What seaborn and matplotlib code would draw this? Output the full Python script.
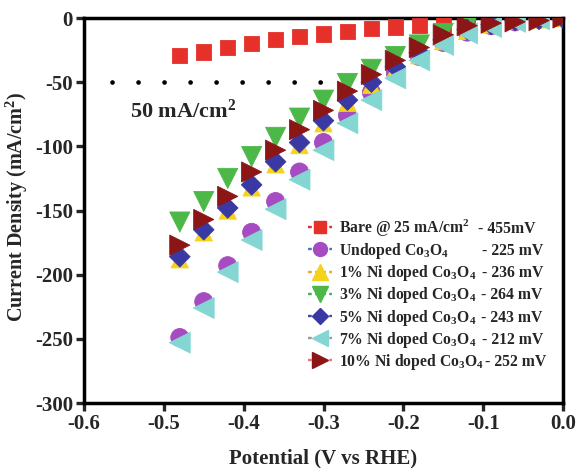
import numpy as np
import pandas as pd
import seaborn as sns
import matplotlib.pyplot as plt
from matplotlib.lines import Line2D

# ---- data -------------------------------------------------------------
potential = [-0.48, -0.45, -0.42, -0.39, -0.36, -0.33, -0.30, -0.27, -0.24,
             -0.21, -0.18, -0.15, -0.12, -0.09, -0.06, -0.03, 0.0]

bare = [-29.5, -26.5, -23, -20, -17, -14.5, -12.5, -10.5, -8, -7, -6, -5,
        -4, -3, -2, -1, 0]
undoped = [-249, -221, -193, -167, -143, -120, -97, -76, -58, -43, -30, -19,
           -11, -6, -3, -1, 0]
ni1 = [-188, -167, -150, -132, -114, -99, -82, -66, -52, -40, -29, -18,
       -10, -5, -2, -1, 0]
ni3 = [-159, -143, -125, -108, -93, -78, -64, -51, -40, -30, -21, -12,
       -6, -3, -2, -1, 0]
ni5 = [-186, -165, -148, -130, -112, -97, -80, -64, -50, -38, -27, -17,
       -9, -5, -2, -1, 0]
ni7 = [-253, -226, -198, -173, -149, -126, -103, -82, -64, -47, -33, -21,
       -12, -7, -3, -1, 0]
ni10 = [-177, -157, -139, -120, -103, -87, -72, -57, -44, -33, -23, -13,
        -6, -4, -3, -2, 0]

samples = ["Bare", "Undoped", "1%", "3%", "5%", "7%", "10%"]
series = [bare, undoped, ni1, ni3, ni5, ni7, ni10]
labels = [
    r"Bare @ 25 mA/cm$^2$",
    r"Undoped Co$_3$O$_4$",
    r"1% Ni doped Co$_3$O$_4$",
    r"3% Ni doped Co$_3$O$_4$",
    r"5% Ni doped Co$_3$O$_4$",
    r"7% Ni doped Co$_3$O$_4$",
    r"10% Ni doped Co$_3$O$_4$",
]
overpotentials = ["- 455mV", "- 225 mV", "- 236 mV", "- 264 mV",
                  "- 243 mV", "- 212 mV", "- 252 mV"]
ref_current = -50
x_ticks = [-0.6, -0.5, -0.4, -0.3, -0.2, -0.1, 0.0]
x_ticklabels = ["-0.6", "-0.5", "-0.4", "-0.3", "-0.2", "-0.1", "0.0"]
y_ticks = [-300, -250, -200, -150, -100, -50, 0]

# ---- style ------------------------------------------------------------
face_colors = ["#e5312a", "#a64bc2", "#f4d31c", "#4cb848",
               "#3a38a2", "#83d6d2", "#8c1616"]
line_colors = ["#e5312a", "#4a78c8", "#f2a22e", "#3fb56a",
               "#4a46a8", "#9a9a9a", "#f0707a"]
markers = ["s", "o", "^", "v", "D", "<", ">"]
msizes = [11, 13, 12.5, 14.5, 10.5, 15, 14.5]
legend_msizes = [8.5, 10, 11, 11, 8, 11, 11]
value_x = [0.823, 0.831, 0.831, 0.829, 0.829, 0.831, 0.838]

sns.set_style("ticks")
plt.rcParams["font.family"] = ["Liberation Serif", "DejaVu Serif"]
plt.rcParams["font.weight"] = "bold"
plt.rcParams["axes.labelweight"] = "bold"
plt.rcParams["mathtext.default"] = "regular"
plt.rcParams["axes.unicode_minus"] = False

df = pd.concat(
    [pd.DataFrame({"potential": potential, "current": vals, "sample": name})
     for name, vals in zip(samples, series)],
    ignore_index=True,
)

fig = plt.figure(figsize=(5.77, 4.68), dpi=100)
ax = fig.add_axes([84 / 577, 1 - 403 / 468, 479 / 577, 385 / 468])

sns.scatterplot(
    data=df, x="potential", y="current",
    hue="sample", style="sample", size="sample",
    hue_order=samples, style_order=samples, size_order=samples,
    palette=dict(zip(samples, face_colors)),
    markers=dict(zip(samples, markers)),
    sizes={s: m ** 2 for s, m in zip(samples, msizes)},
    edgecolor="face", linewidth=0.6, legend=False, ax=ax, zorder=3,
)

# dotted guide at 50 mA/cm2
ax.plot([-0.565, -0.205], [ref_current, ref_current], color="black",
        lw=3.4, linestyle=(0, (0.01, 5.5)), dash_capstyle="round", zorder=2)
ax.text(-0.542, -78, r"50 mA/cm$^2$", fontsize=16, fontweight="bold",
        va="baseline", ha="left")

ax.set_xlim(-0.6, 0.0)
ax.set_ylim(-300, 0)
ax.set_xticks(x_ticks)
ax.set_xticklabels(x_ticklabels)
ax.set_yticks(y_ticks)
ax.set_xlabel("Potential (V vs RHE)", fontsize=15, fontweight="bold")
ax.set_ylabel(r"Current Density (mA/cm$^2$)", fontsize=14.5, fontweight="bold")
ax.xaxis.set_label_coords(0.5, -0.118)
ax.yaxis.set_label_coords(-0.113, 0.51)
ax.tick_params(axis="both", labelsize=15, width=2.4, length=6,
               direction="out", pad=2)
for t in ax.get_xticklabels() + ax.get_yticklabels():
    t.set_fontweight("bold")
for sp in ax.spines.values():
    sp.set_visible(True)
    sp.set_linewidth(2.5)
    sp.set_color("black")

handles = [
    Line2D([0], [0], color=lc, linestyle=(0, (1.6, 1.4)), lw=1.7,
           marker=m, markersize=ms, markerfacecolor=fc, markeredgecolor=fc)
    for lc, fc, m, ms in zip(line_colors, face_colors, markers, legend_msizes)
]
leg = ax.legend(handles, labels, loc="upper left", bbox_to_anchor=(0.468, 0.482),
                frameon=False, fontsize=11.3, handlelength=1.55, handletextpad=0.4,
                labelspacing=0.14, borderpad=0, borderaxespad=0)
for t in leg.get_texts():
    t.set_fontweight("bold")

# overpotential column aligned with the legend rows
fig.canvas.draw()
inv = ax.transAxes.inverted()
for t, val, xv in zip(leg.get_texts(), overpotentials, value_x):
    xd, yd = t.get_transform().transform(t.get_position())
    _, ya = inv.transform((xd, yd))
    ax.text(xv, ya, val, transform=ax.transAxes, fontsize=11.3,
            fontweight="bold", va="baseline", ha="left")

fig.savefig("out.png", dpi=100)
